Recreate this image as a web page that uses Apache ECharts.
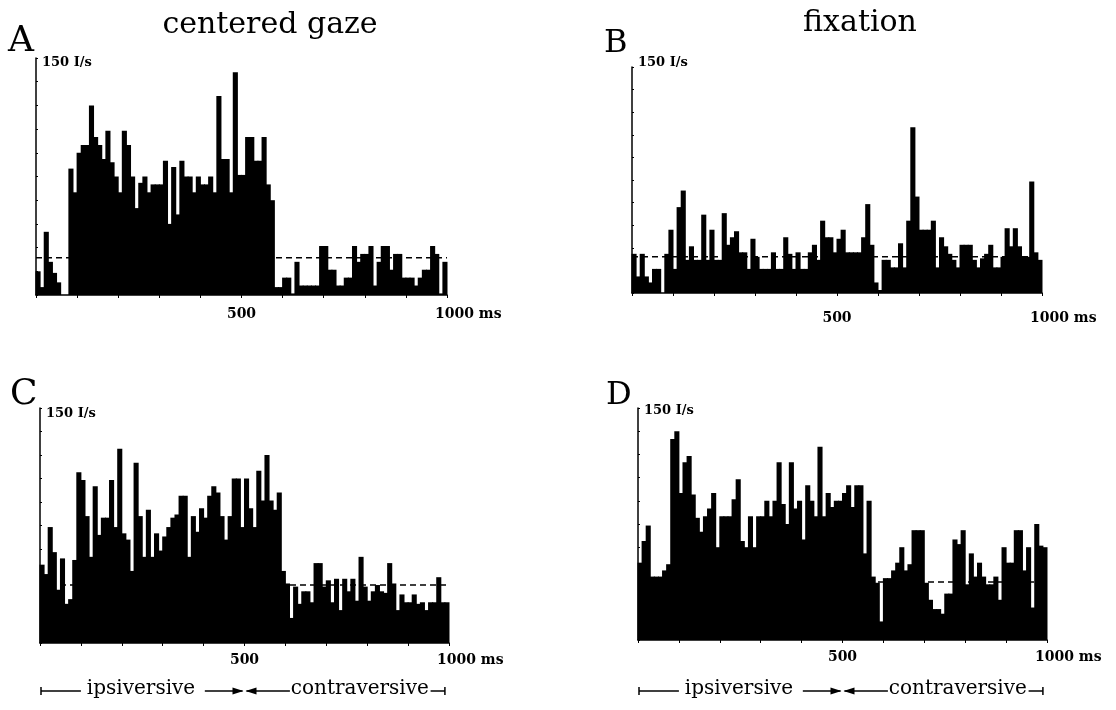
<!DOCTYPE html>
<html>
<head>
<meta charset="utf-8">
<script src="https://cdn.jsdelivr.net/npm/echarts@6/dist/echarts.min.js"></script>
<style>
  html, body { margin: 0; background: #fff; }
  #chart { width: 1116px; height: 710px; }
</style>
</head>
<body>
<div id="chart"></div>
<script>
// 10 ms bins, 0..1000 ms
const binMs = 10
const binStarts = Array.from({ length: 100 }, (_, i) => i * binMs)

// firing rate per bin (I/s)
const rateA = [15,5,40,21,14,8,0,0,80,65, 90,95,95,120,100,95,86,104,84,75,
  65,104,95,75,55,71,75,65,70,70, 70,85,45,81,51,85,75,75,65,75,
  70,70,75,65,126,86,86,65,141,76, 76,100,100,85,85,100,70,60,5,5,
  11,11,1,21,6,6,6,6,6,31, 31,16,16,6,6,11,11,31,21,26,
  26,31,6,21,31,31,16,26,26,11, 11,11,6,11,16,16,31,26,1,21]
const rateB = [26,11,26,11,7,16,16,0,26,42, 16,57,68,22,31,22,22,52,22,42,
  22,22,53,32,37,41,27,27,16,36, 24,16,16,16,27,16,16,37,26,16,
  27,16,16,27,32,22,48,37,37,27, 36,42,27,27,27,27,37,59,32,7,
  2,22,22,17,17,33,17,48,110,64, 42,42,42,48,17,37,31,26,22,17,
  32,32,32,22,17,23,26,32,17,17, 24,43,31,43,31,24,24,74,27,22]
const rateC = [50,44,74,58,34,54,25,28,53,109, 104,81,55,100,69,80,80,104,74,124,
  70,66,46,115,81,55,85,55,70,59, 68,74,80,82,94,94,55,81,71,86,
  80,94,100,96,81,66,81,105,105,74, 105,86,74,110,91,120,91,85,96,46,
  38,16,36,25,33,33,26,51,51,36, 40,26,41,21,41,33,41,27,55,36,
  27,33,37,33,32,51,38,21,31,26, 26,31,25,26,21,26,26,42,26,26]
const rateD = [50,64,74,41,41,41,45,49,130,135, 95,115,119,94,79,70,80,85,95,60,
  80,80,80,91,104,64,60,80,60,80, 80,90,80,90,115,88,75,115,85,90,
  65,100,90,80,125,80,95,86,90,90, 95,100,86,100,100,56,90,41,37,12,
  40,40,45,50,60,45,49,71,71,71, 37,26,20,20,17,30,30,65,62,71,
  36,56,41,50,41,36,36,41,26,60, 50,50,71,71,45,60,21,75,61,60]

// spontaneous (background) rate, dashed line
const baseRate = [23.5, 24, 37, 37.5]
const panelLetters = ['A', 'B', 'C', 'D']
const yMax = 150
const yTickStep = 15
const xTickLabels = [500, 1000]

const rates = [rateA, rateB, rateC, rateD]
// plot rectangles of the four panels
const grids = [
  { left: 36, top: 58, width: 411, height: 237 },
  { left: 632, top: 67, width: 410, height: 226 },
  { left: 40, top: 408, width: 409, height: 235 },
  { left: 638, top: 408, width: 409, height: 232 }
]

const serif = 'DejaVu Serif'
const chart = echarts.init(document.getElementById('chart'), null, { renderer: 'canvas' })

function renderBin(params, api) {
  const x0 = api.value(0)
  const v = api.value(1)
  const top = api.coord([x0, v])
  const bot = api.coord([x0 + binMs, 0])
  // a little overlap so neighbouring bins don't leave light seams
  return {
    type: 'rect',
    shape: { x: top[0] - 0.5, y: top[1], width: bot[0] - top[0] + 1, height: bot[1] - top[1] },
    style: { fill: '#000' }
  }
}

const xAxes = grids.map((g, i) => ({
  type: 'value', gridIndex: i, min: 0, max: 1000, interval: 100,
  axisLine: { lineStyle: { color: '#000', width: 1.5 } },
  axisTick: { length: 3, lineStyle: { color: '#000', width: 1 } },
  axisLabel: { show: false },
  splitLine: { show: false }
}))
const yAxes = grids.map((g, i) => ({
  type: 'value', gridIndex: i, min: 0, max: yMax, interval: yTickStep,
  axisLine: { show: true, lineStyle: { color: '#000', width: 1.5 } },
  axisTick: { show: true, inside: true, length: 2, lineStyle: { color: '#000', width: 1 } },
  axisLabel: { show: false },
  splitLine: { show: false }
}))

const series = []
rates.forEach((r, i) => {
  series.push({
    type: 'custom', xAxisIndex: i, yAxisIndex: i,
    renderItem: renderBin,
    data: binStarts.map((t, k) => [t, r[k]]),
    silent: true, z: 2
  })
  series.push({
    type: 'line', xAxisIndex: i, yAxisIndex: i,
    data: [[0, baseRate[i]], [1000, baseRate[i]]],
    symbol: 'none', silent: true, z: 3,
    lineStyle: { color: '#000', width: 1.5, type: [6, 4] }
  })
})

chart.setOption({
  animation: false,
  backgroundColor: '#fff',
  grid: grids,
  xAxis: xAxes,
  yAxis: yAxes,
  series: series
})

// texts and the ipsi/contra arrows
const graphic = []
function text(x, y, s, font, align) {
  graphic.push({
    type: 'text', x: x, y: y, silent: true,
    style: { text: s, font: font, fill: '#000', textAlign: align || 'left', textVerticalAlign: 'middle' }
  })
}
function px(i, ms, v) { return chart.convertToPixel({ gridIndex: i }, [ms, v]) }

text(270, 25, 'centered gaze', '30px "' + serif + '"', 'center')
text(860, 23, 'fixation', '30px "' + serif + '"', 'center')

const letterPos = [[8, 42, 36], [604, 44, 32], [10, 395, 36], [606, 396, 32]]
const unitY = [63, 63, 414, 411]
const labelY = [314, 318, 660, 657]
grids.forEach((g, i) => {
  const lp = letterPos[i]
  text(lp[0], lp[1], panelLetters[i], lp[2] + 'px "' + serif + '"')
  text(g.left + 6, unitY[i], '150 I/s', 'bold 13px "' + serif + '"')
  xTickLabels.forEach(ms => {
    const p = px(i, ms, 0)
    if (ms === 1000) {
      text(p[0] - 12, labelY[i], '1000 ms', 'bold 14px "' + serif + '"')
    } else {
      text(p[0], labelY[i], String(ms), 'bold 14px "' + serif + '"', 'center')
    }
  })
})

// ipsiversive / contraversive marker under the lower panels
const arrowY = 691
function hline(x1, x2, y) {
  graphic.push({ type: 'line', silent: true, shape: { x1: x1, y1: y, x2: x2, y2: y }, style: { stroke: '#000', lineWidth: 1.5 } })
}
function vline(x, y) {
  graphic.push({ type: 'line', silent: true, shape: { x1: x, y1: y - 4, x2: x, y2: y + 4 }, style: { stroke: '#000', lineWidth: 1.5 } })
}
function head(xTip, y, dir) {
  graphic.push({ type: 'polygon', silent: true,
    shape: { points: [[xTip, y], [xTip - dir * 11, y - 3.5], [xTip - dir * 11, y + 3.5]] },
    style: { fill: '#000' } })
}
[2, 3].forEach(i => {
  const x0 = px(i, 0, 0)[0]
  const a1 = px(i, 100, 0)[0]
  const ipsi = px(i, 247, 0)[0]
  const a2 = px(i, 403, 0)[0]
  const mid = px(i, 500, 0)[0]
  const a3 = px(i, 611, 0)[0]
  const contra = px(i, 782, 0)[0]
  const a4 = px(i, 955, 0)[0]
  const xEnd = px(i, 990, 0)[0]
  vline(x0 + 1, arrowY)
  hline(x0 + 1, a1, arrowY)
  text(ipsi, arrowY - 2, 'ipsiversive', '20px "' + serif + '"', 'center')
  hline(a2, mid - 2, arrowY)
  head(mid - 1, arrowY, 1)
  head(mid + 1, arrowY, -1)
  hline(mid + 2, a3, arrowY)
  text(contra, arrowY - 2, 'contraversive', '20px "' + serif + '"', 'center')
  hline(a4, xEnd, arrowY)
  vline(xEnd, arrowY)
})

chart.setOption({ graphic: graphic })
</script>
</body>
</html>
